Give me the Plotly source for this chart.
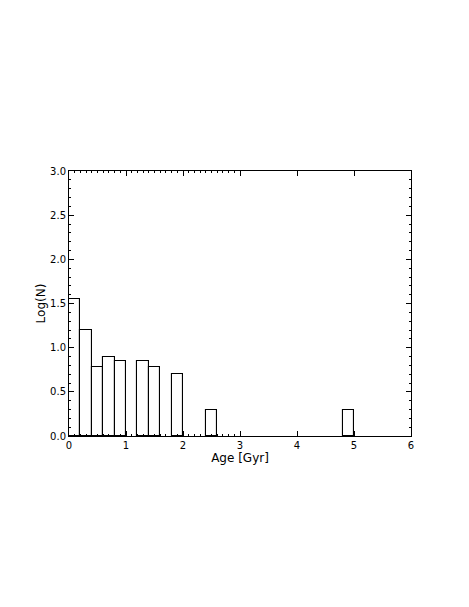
import plotly.graph_objects as go

# age bins (left edges, Gyr) and log(N) heights; empty bins left out
bin_left = [0.0, 0.2, 0.4, 0.6, 0.8, 1.2, 1.4, 1.8, 2.4, 4.8]
log_n = [1.55, 1.20, 0.78, 0.90, 0.845, 0.845, 0.78, 0.70, 0.30, 0.30]
bin_width = 0.2

x_ticks = [0, 1, 2, 3, 4, 5, 6]
y_ticks = [0.0, 0.5, 1.0, 1.5, 2.0, 2.5, 3.0]
x_minor = [round(i * 0.1, 1) for i in range(31)]

fig = go.Figure()
fig.add_trace(go.Bar(
    x=[b + bin_width / 2 for b in bin_left],
    y=log_n,
    width=bin_width,
    marker=dict(color="white", line=dict(color="black", width=1.1)),
    showlegend=False,
))

axis_font = dict(family="DejaVu Sans", size=10, color="black")
# the page body adds 8px around the figure, so margins are shifted by that
fig.update_layout(
    width=469, height=607,
    margin=dict(l=61, r=66, t=163, b=179),
    paper_bgcolor="white", plot_bgcolor="white",
    font=axis_font,
    bargap=0,
    xaxis=dict(
        range=[0, 6], tickvals=x_ticks, ticks="inside", ticklen=5,
        tickcolor="black", showline=True, linecolor="black", linewidth=1,
        mirror="ticks", showgrid=False, zeroline=False,
        minor=dict(tickvals=x_minor, ticks="inside", ticklen=2, tickcolor="black"),
        title=dict(text="Age [Gyr]", standoff=0), tickfont=axis_font,
    ),
    yaxis=dict(
        range=[0, 3], tickvals=y_ticks, tickformat=".1f", ticks="inside",
        ticklen=5, tickcolor="black", showline=True, linecolor="black",
        linewidth=1, mirror="ticks", showgrid=False, zeroline=False,
        minor=dict(dtick=0.1, ticks="inside", ticklen=2, tickcolor="black"),
        title=dict(text="Log(N)", standoff=1), tickfont=axis_font,
    ),
)

fig.write_html("out.html")
